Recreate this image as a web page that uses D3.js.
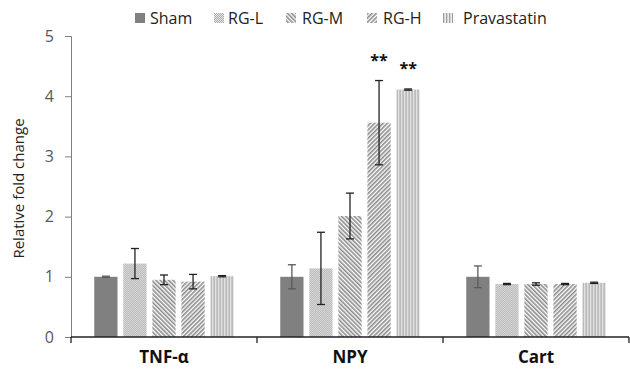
<!DOCTYPE html>
<html>
<head>
<meta charset="utf-8">
<script src="https://cdn.jsdelivr.net/npm/d3@7"></script>
<style>
  html, body { margin: 0; padding: 0; background: #fff; }
  svg { display: block; font-family: "Open Sans", "Noto Sans", sans-serif; }
</style>
</head>
<body>
<div id="chart"></div>
<script>
// data
const categories = ["TNF-\u03b1", "NPY", "Cart"];
const groups = ["Sham", "RG-L", "RG-M", "RG-H", "Pravastatin"];
const means = {
  "Sham":        [1.00, 1.00, 1.00],
  "RG-L":        [1.22, 1.14, 0.88],
  "RG-M":        [0.95, 2.01, 0.88],
  "RG-H":        [0.92, 3.56, 0.88],
  "Pravastatin": [1.01, 4.11, 0.90]
};
const errors = {
  "Sham":        [0.01, 0.20, 0.18],
  "RG-L":        [0.25, 0.60, 0.01],
  "RG-M":        [0.08, 0.38, 0.02],
  "RG-H":        [0.12, 0.70, 0.01],
  "Pravastatin": [0.01, 0.01, 0.01]
};
const stars = [{ cat: "NPY", group: "RG-H" }, { cat: "NPY", group: "Pravastatin" }];
const yTicks = [0, 1, 2, 3, 4, 5];

const W = 630, H = 369;
const margin = { top: 36, right: 1, bottom: 32, left: 71 };
const innerW = W - margin.left - margin.right;
const innerH = H - margin.top - margin.bottom;

const svg = d3.select("#chart").append("svg").attr("width", W).attr("height", H);

// fill patterns
const defs = svg.append("defs");
const checker = defs.append("pattern").attr("id", "p-rgl")
  .attr("patternUnits", "userSpaceOnUse").attr("width", 2).attr("height", 2);
checker.append("rect").attr("width", 2).attr("height", 2).attr("fill", "#e8e8e8");
checker.append("rect").attr("width", 1).attr("height", 1).attr("fill", "#aaaaaa");
checker.append("rect").attr("x", 1).attr("y", 1).attr("width", 1).attr("height", 1).attr("fill", "#aaaaaa");

function stripes(id, rotate) {
  const p = defs.append("pattern").attr("id", id)
    .attr("patternUnits", "userSpaceOnUse").attr("width", 3).attr("height", 3)
    .attr("patternTransform", `rotate(${rotate})`);
  p.append("rect").attr("width", 3).attr("height", 3).attr("fill", "#fff");
  p.append("rect").attr("width", 1.6).attr("height", 3).attr("fill", "#8a8a8a");
}
stripes("p-rgm", -45);
stripes("p-rgh", 45);
const vp = defs.append("pattern").attr("id", "p-prav")
  .attr("patternUnits", "userSpaceOnUse").attr("width", 3).attr("height", 3);
vp.append("rect").attr("width", 3).attr("height", 3).attr("fill", "#ececec");
vp.append("rect").attr("width", 1.3).attr("height", 3).attr("fill", "#a0a0a0");

const fills = {
  "Sham": "#808080",
  "RG-L": "url(#p-rgl)",
  "RG-M": "url(#p-rgm)",
  "RG-H": "url(#p-rgh)",
  "Pravastatin": "url(#p-prav)"
};

const g = svg.append("g").attr("transform", `translate(${margin.left},${margin.top})`);

const x0 = d3.scaleBand().domain(categories).range([0, innerW]).paddingInner(0.25).paddingOuter(0.125);
const x1 = d3.scaleBand().domain(groups).range([0, x0.bandwidth()]).paddingInner(0.2);
const y = d3.scaleLinear().domain([0, 5]).range([innerH, 0]);

// y axis
const gy = g.append("g")
  .call(d3.axisLeft(y).tickValues(yTicks).tickSize(6).tickPadding(11).tickFormat(d3.format("d")));
gy.select(".domain").attr("stroke", "#7f7f7f");
gy.selectAll(".tick line").attr("stroke", "#7f7f7f");
gy.selectAll("text").attr("fill", "#595959").style("font-size", "16px")
  .style("font-family", "'Open Sans', 'Noto Sans', sans-serif");

svg.append("text")
  .attr("transform", `translate(24,${margin.top + innerH / 2 + 2}) rotate(-90)`)
  .attr("text-anchor", "middle")
  .attr("fill", "#222")
  .style("font-size", "15px")
  .text("Relative fold change");

// bars
const rows = [];
categories.forEach((c, i) => {
  groups.forEach(k => rows.push({ cat: c, group: k, v: means[k][i], e: errors[k][i] }));
});

const bar = g.append("g").selectAll("g.bar").data(rows).join("g").attr("class", "bar")
  .attr("transform", d => `translate(${x0(d.cat) + x1(d.group)},0)`);

bar.append("rect")
  .attr("y", d => y(d.v))
  .attr("width", x1.bandwidth())
  .attr("height", d => y(0) - y(d.v))
  .attr("fill", d => fills[d.group]);

// error bars
const cx = x1.bandwidth() / 2;
const ebColor = d => d.group === "Sham" ? "#595959" : "#222";
bar.append("line")
  .attr("x1", cx).attr("x2", cx)
  .attr("y1", d => y(d.v + d.e)).attr("y2", d => y(d.v - d.e))
  .attr("stroke", ebColor).attr("stroke-width", 1.3);
bar.append("line")
  .attr("x1", cx - 4).attr("x2", cx + 4)
  .attr("y1", d => y(d.v + d.e)).attr("y2", d => y(d.v + d.e))
  .attr("stroke", ebColor).attr("stroke-width", 1.3);
bar.append("line")
  .attr("x1", cx - 4).attr("x2", cx + 4)
  .attr("y1", d => y(d.v - d.e)).attr("y2", d => y(d.v - d.e))
  .attr("stroke", ebColor).attr("stroke-width", 1.3);

// significance marks
g.selectAll("text.star").data(stars).join("text").attr("class", "star")
  .attr("x", d => x0(d.cat) + x1(d.group) + cx)
  .attr("y", d => {
    const i = categories.indexOf(d.cat);
    return y(means[d.group][i] + errors[d.group][i]) - 15;
  })
  .attr("text-anchor", "middle")
  .attr("fill", "#111")
  .style("font-size", "16px")
  .style("font-weight", "bold")
  .text("**");

// x axis
const gx = g.append("g").attr("transform", `translate(0,${innerH})`);
gx.append("line").attr("x1", 0).attr("x2", innerW).attr("stroke", "#222").attr("stroke-width", 1.5);
const bounds = [0].concat(categories.map(c => x0(c) - x0.step() * x0.paddingInner() / 2 + x0.step()));
gx.selectAll("line.tk").data(bounds).join("line").attr("class", "tk")
  .attr("x1", d => d).attr("x2", d => d).attr("y1", 0).attr("y2", 6)
  .attr("stroke", "#222").attr("stroke-width", 1.3);
gx.selectAll("text").data(categories).join("text")
  .attr("x", d => x0(d) + x0.bandwidth() / 2)
  .attr("y", 26)
  .attr("text-anchor", "middle")
  .attr("fill", "#111")
  .style("font-size", "17px")
  .style("font-weight", "bold")
  .text(d => d);

// legend
const legendX = [135, 214, 286, 367, 443];
const legendGap = [15, 14, 16, 16, 20];
const lg = svg.append("g").selectAll("g").data(groups).join("g")
  .attr("transform", (d, i) => `translate(${legendX[i]},13)`);
lg.append("rect").attr("width", 10).attr("height", 10).attr("fill", d => fills[d]);
lg.append("text").attr("x", (d, i) => legendGap[i]).attr("y", 11)
  .attr("fill", "#222").style("font-size", "16px").text(d => d);
</script>
</body>
</html>
